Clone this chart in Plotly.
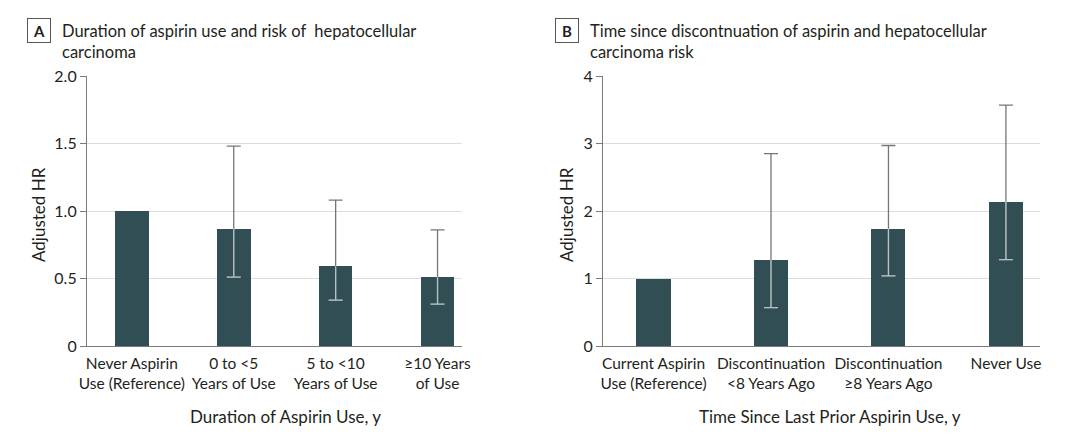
import plotly.graph_objects as go

# Panel A data
cats_a = ["Never Aspirin<br>Use (Reference)", "0 to <5<br>Years of Use", "5 to <10<br>Years of Use", "≥10 Years<br>of Use"]
hr_a = [1.0, 0.87, 0.59, 0.51]
lo_a = [None, 0.51, 0.34, 0.31]
hi_a = [None, 1.48, 1.08, 0.86]

# Panel B data
cats_b = ["Current Aspirin<br>Use (Reference)", "Discontinuation<br><8 Years Ago", "Discontinuation<br>≥8 Years Ago", "Never Use<br> "]
hr_b = [0.99, 1.28, 1.74, 2.14]
lo_b = [None, 0.57, 1.04, 1.28]
hi_b = [None, 2.85, 2.97, 3.57]

title_a = "Duration of aspirin use and risk of  hepatocellular<br>carcinoma"
title_b = "Time since discontnuation of aspirin and hepatocellular<br>carcinoma risk"
xtitle_a = "Duration of Aspirin Use, y"
xtitle_b = "Time Since Last Prior Aspirin Use, y"
ytitle = "Adjusted HR"

FONT = "Lato, Noto Sans, sans-serif"
BAR = "#314e55"
ERR = "#767676"
ERR_IN = "#b4c2c4"
TXT = "#231f20"
W, H = 1080, 442
OFF = 8  # page body margin offset

def px(x): return (x - OFF) / W
def py(y): return 1 - (y - OFF) / H

fig = go.Figure()

def add_panel(hr, lo, hi, width, xa, ya):
    xs = list(range(len(hr)))
    fig.add_trace(go.Bar(x=xs, y=hr, width=width, marker=dict(color=BAR, line=dict(width=0)),
                         xaxis=xa, yaxis=ya, showlegend=False, hoverinfo="skip"))
    idx = [i for i, l in enumerate(lo) if l is not None]
    xi = [xs[i] for i in idx]
    yi = [hr[i] for i in idx]
    up = [hi[i] - hr[i] for i in idx]
    dn = [hr[i] - lo[i] for i in idx]
    li = [lo[i] for i in idx]
    zeros = [0] * len(idx)
    # full gray CI
    fig.add_trace(go.Scatter(x=xi, y=yi, mode="markers", marker=dict(size=0.1, opacity=0),
                             error_y=dict(type="data", symmetric=False, array=up, arrayminus=dn,
                                          color=ERR, thickness=1.3, width=7),
                             xaxis=xa, yaxis=ya, showlegend=False, hoverinfo="skip"))
    # lighter lower part inside the bar
    fig.add_trace(go.Scatter(x=xi, y=yi, mode="markers", marker=dict(size=0.1, opacity=0),
                             error_y=dict(type="data", symmetric=False, array=zeros, arrayminus=dn,
                                          color=ERR_IN, thickness=1.3, width=0),
                             xaxis=xa, yaxis=ya, showlegend=False, hoverinfo="skip"))
    fig.add_trace(go.Scatter(x=xi, y=li, mode="markers", marker=dict(size=0.1, opacity=0),
                             error_y=dict(type="data", symmetric=False, array=zeros, arrayminus=zeros,
                                          color=ERR_IN, thickness=1.3, width=7),
                             xaxis=xa, yaxis=ya, showlegend=False, hoverinfo="skip"))

add_panel(hr_a, lo_a, hi_a, 0.33, "x", "y")
add_panel(hr_b, lo_b, hi_b, 0.29, "x2", "y2")

ydom = [py(346), py(76)]
common_x = dict(showgrid=False, showline=True, linecolor="#7a7a7a", linewidth=1.2, ticks="",
                tickfont=dict(family=FONT, size=15.5, color=TXT), zeroline=False, tickmode="array",
                tickvals=list(range(4)), tickangle=0, automargin=False, ticklabelstandoff=3)
common_y = dict(showgrid=True, gridcolor="#dcdcdc", gridwidth=1.2, showline=True, linecolor="#7a7a7a",
                linewidth=1.2, ticks="outside", ticklen=6, tickcolor="#7a7a7a", automargin=False,
                tickfont=dict(family=FONT, size=16, color=TXT), zeroline=False, domain=ydom)

fig.update_layout(
    width=W, height=H, margin=dict(l=0, r=0, t=0, b=0, autoexpand=False),
    paper_bgcolor="white", plot_bgcolor="white", bargap=0,
    font=dict(family=FONT, color=TXT),
    xaxis=dict(**common_x, domain=[px(87), px(462)], range=[-0.44, 3.24], ticktext=cats_a, anchor="y"),
    yaxis=dict(**common_y, range=[0, 2.0], tickvals=[0, 0.5, 1.0, 1.5, 2.0],
               ticktext=["0", "0.5", "1.0", "1.5", "2.0"], anchor="x"),
    xaxis2=dict(**common_x, domain=[px(603), px(1040)], range=[-0.43, 3.29], ticktext=cats_b, anchor="y2"),
    yaxis2=dict(**common_y, range=[0, 4], tickvals=[0, 1, 2, 3, 4], anchor="x2"),
)

ann = []
for letter, x0 in [("A", 39), ("B", 567)]:
    ann.append(dict(x=px(x0), y=py(30.5), xref="paper", yref="paper", text="<b>" + letter + "</b>",
                    showarrow=False, font=dict(family=FONT, size=15, color=TXT),
                    bordercolor="#555", borderwidth=1, borderpad=0, width=22, height=23,
                    xanchor="center", yanchor="middle"))
ann.append(dict(x=px(60), y=py(19), xref="paper", yref="paper", text=title_a, showarrow=False,
                font=dict(family=FONT, size=16.5, color=TXT), xanchor="left", yanchor="top", align="left"))
ann.append(dict(x=px(588), y=py(19), xref="paper", yref="paper", text=title_b, showarrow=False,
                font=dict(family=FONT, size=16.5, color=TXT), xanchor="left", yanchor="top", align="left"))
ann.append(dict(x=px(285), y=py(416), xref="paper", yref="paper", text=xtitle_a, showarrow=False,
                font=dict(family=FONT, size=17, color=TXT), xanchor="center", yanchor="middle"))
ann.append(dict(x=px(830), y=py(416), xref="paper", yref="paper", text=xtitle_b, showarrow=False,
                font=dict(family=FONT, size=17, color=TXT), xanchor="center", yanchor="middle"))
ann.append(dict(x=px(38), y=py(215), xref="paper", yref="paper", text=ytitle, showarrow=False, textangle=-90,
                font=dict(family=FONT, size=17, color=TXT), xanchor="center", yanchor="middle"))
ann.append(dict(x=px(566), y=py(215), xref="paper", yref="paper", text=ytitle, showarrow=False, textangle=-90,
                font=dict(family=FONT, size=17, color=TXT), xanchor="center", yanchor="middle"))
fig.update_layout(annotations=ann)

fig.write_html("out.html")
